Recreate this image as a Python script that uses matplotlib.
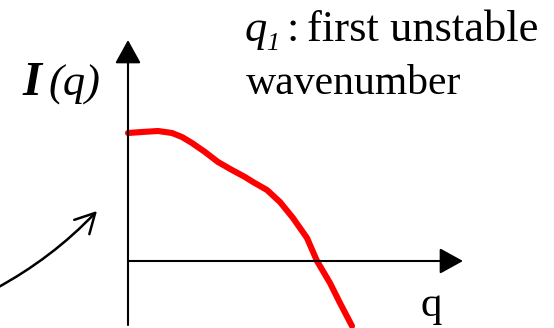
import matplotlib

matplotlib.use("Agg")
import matplotlib.pyplot as plt

# growth-rate curve lambda(q), sketched in plot units
q_vals = [0.00, 0.14, 0.30, 0.44, 0.54, 0.64, 0.77, 0.90, 1.04, 1.17, 1.25, 1.39,
          1.52, 1.65, 1.79, 1.89, 2.02, 2.12, 2.24]
lam_vals = [1.28, 1.29, 1.30, 1.28, 1.24, 1.18, 1.09, 0.99, 0.91, 0.84, 0.79, 0.71,
            0.59, 0.43, 0.23, 0.00, -0.22, -0.42, -0.65]

# pointer arrow (bottom left), plot units
pointer_start = (-1.33, -0.28)
pointer_end = (-0.31, 0.50)

W, H = 554, 328
fig = plt.figure(figsize=(W / 100, H / 100), dpi=100)
ax = fig.add_axes([0, 0, 1, 1])
ax.set_xlim(-1.28, (W - 128) / 100)
ax.set_ylim(-(H - 261) / 100, 2.61)
ax.axis("off")

axis_style = dict(arrowstyle="-|>,head_length=1.45,head_width=0.8", color="black",
                  lw=1.5, shrinkA=0, shrinkB=0)
# vertical lambda axis
ax.annotate("", xy=(0, 2.21), xytext=(0, -0.64), arrowprops=axis_style)
# horizontal q axis
ax.annotate("", xy=(3.35, 0), xytext=(0, 0), arrowprops=axis_style)

ax.plot(q_vals, lam_vals, color="#ff0000", lw=4.4, solid_capstyle="round",
        solid_joinstyle="round")

ax.annotate("", xy=pointer_end, xytext=pointer_start,
            arrowprops=dict(arrowstyle="->,head_length=1.4,head_width=0.75", color="black",
                            lw=1.8, shrinkA=0, shrinkB=0,
                            connectionstyle="arc3,rad=0.08"))


def px_text(x, y, s, **kw):
    fig.text(x / W, 1 - y / H, s, family="Liberation Serif", va="baseline", ha="left", **kw)


px_text(22, 95, "I", fontsize=35, fontweight="bold", style="italic")
px_text(48, 96, "(q)", fontsize=32, style="italic")

px_text(245, 41, "q", fontsize=32, style="italic")
px_text(266, 50, "1", fontsize=19, style="italic")
px_text(287, 41, ":", fontsize=32)
px_text(307, 41, "first unstable", fontsize=32)
px_text(246, 94, "wavenumber", fontsize=30)

px_text(421, 316, "q", fontsize=31)

fig.savefig("out.png", dpi=100)
